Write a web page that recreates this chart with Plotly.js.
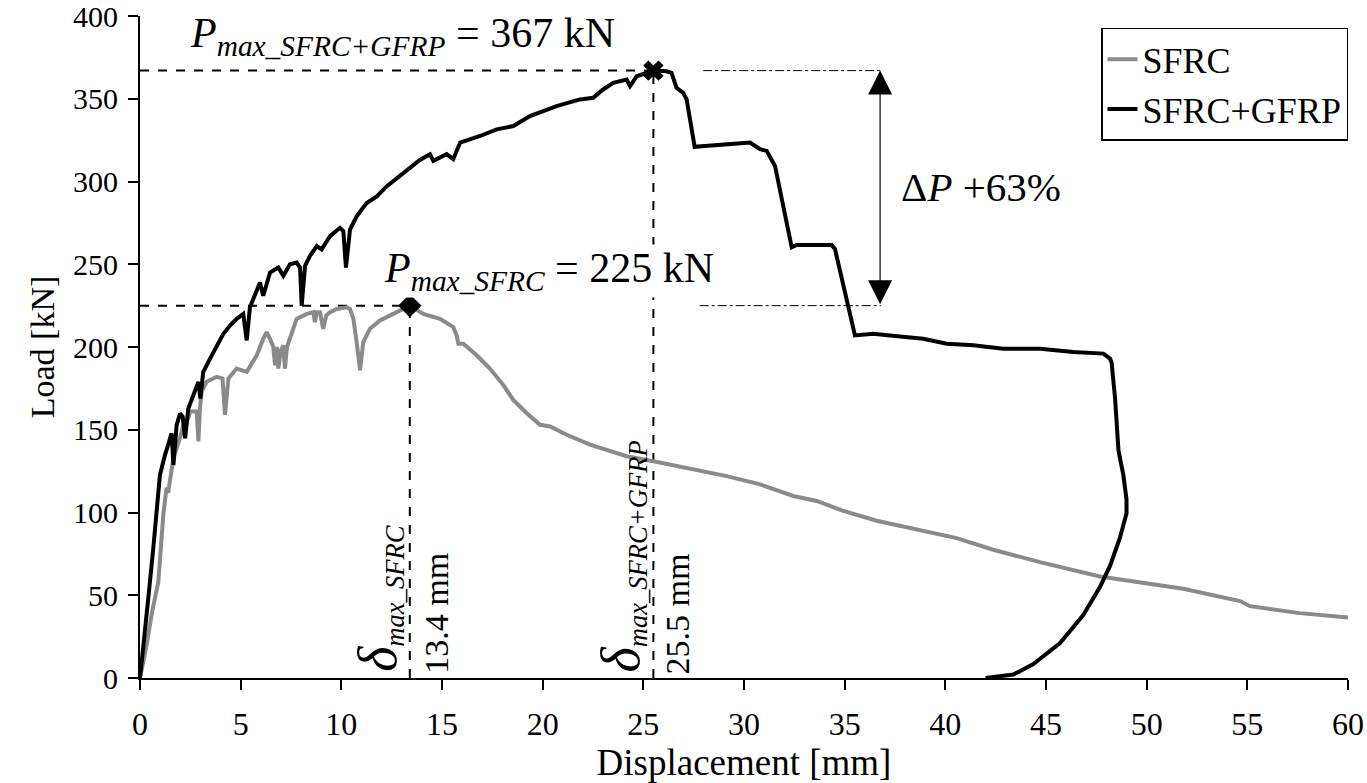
<!DOCTYPE html>
<html>
<head>
<meta charset="utf-8">
<script src="https://cdn.plot.ly/plotly-3.0.1.min.js"></script>
<style>html,body{margin:0;padding:0;background:#fff;}#chart{width:1367px;height:783px;}</style>
</head>
<body>
<div id="chart"></div>
<script>
// ---- data ----
var sfrcDisp = [0,0.3,0.6,0.91,1.16,1.32,1.40,1.57,1.66,1.99,2.15,2.40,2.48,2.82,2.90,2.98,3.06,3.31,3.81,4.10,4.22,4.39,4.80,5.30,5.80,6.12,6.29,6.46,6.62,6.71,6.80,6.87,7.0,7.12,7.20,7.30,7.78,8.28,8.61,8.69,8.78,8.94,9.10,9.25,9.44,9.77,10.26,10.43,10.6,10.76,10.93,11.09,11.42,11.92,12.42,12.91,13.4,14.07,14.9,15.56,15.73,15.81,16.06,16.72,17.38,18.05,18.54,19.21,19.87,20.37,21.19,22.35,24.17,25.5,27.49,29.14,30.8,32.45,33.61,34.93,36.59,38.25,40.56,42.38,44.7,47.68,51.82,54.64,55.13,57.6,60];
var sfrcLoad = [0,18,40,58,99,115,112,127,133,145,153,157,161,161,143,163,173,179,182,181,159,181,187,185,195,205,209,205,200,189,200,187,198,201,187,200,217,220,221,215,221,221,211,219,221,223,224,223,217,203,186,203,211,216,219,222,225,220,217,212,207,202,202,195,187,177,168,160,153,152,147,141,134,131,126,122,117,110,107,101,95,90.5,84.5,77.5,70,61.3,53.9,46.5,43.4,39.2,36.5];

var gfrpDisp = [0,0.17,0.41,0.66,0.83,0.99,1.24,1.49,1.57,1.66,1.82,1.99,2.12,2.24,2.40,2.65,2.90,3.0,3.14,3.48,3.81,4.14,4.47,4.80,5.13,5.30,5.46,5.96,6.12,6.46,6.87,7.12,7.45,7.78,7.95,8.03,8.2,8.44,8.78,9.02,9.44,9.93,10.1,10.23,10.43,10.76,11.26,11.76,12.25,13.08,13.9,14.4,14.57,15.23,15.56,15.9,16.89,17.72,18.54,19.37,20.69,21.85,22.51,23.0,23.51,24.17,24.34,24.67,25.17,25.5,26.15,26.4,26.65,26.98,27.15,27.55,30.3,30.8,31.13,31.54,32.37,32.61,34.35,34.52,35.51,36.42,37.25,38.9,40.07,41.39,42.88,44.7,46.36,47.85,48.18,48.26,48.43,48.6,48.84,49.0,49.0,48.67,48.18,47.68,46.85,45.7,44.37,43.38,42.0];
var gfrpLoad = [0,18,48,78.5,102.6,122.7,134.7,144.8,147.8,128.7,152.8,159.8,158,144.8,162.8,170.9,178.9,168.9,184.9,193,201,208,213,217,220,204,224,239,231,245,248,243,250,251,248,225,249,255,261,259,267,272,270,248,271,279,287,291,297,305,313,316.5,312.5,316.5,313.5,323.5,327.5,331.5,333.5,339.5,345.6,349.6,350.6,355.6,359.6,361.6,357.6,363.6,365.6,367,366.6,365.6,356.6,353.6,349.6,321,323.5,319.5,318.5,309.4,260.2,261.6,261.6,259.2,207,208,207,205,202,201,199,199,197,196,193,190.5,169,137.5,122.7,107.9,99.5,84.6,67.7,55,38,21.1,8.4,2.1,0];

var seriesNames = ['SFRC', 'SFRC+GFRP'];
var peakDisp = [13.4, 25.5];
var peakLoad = [225, 367];
var xTickVals = [0,5,10,15,20,25,30,35,40,45,50,55,60];
var yTickVals = [0,50,100,150,200,250,300,350,400];

var increase = Math.round((peakLoad[1] / peakLoad[0] - 1) * 100);

var FONT = 'Liberation Serif, Times New Roman, serif';
var GRAY = '#8a8a8a';

var traces = [
  {x: sfrcDisp, y: sfrcLoad, name: seriesNames[0], type: 'scatter', mode: 'lines',
   line: {color: GRAY, width: 4}},
  {x: gfrpDisp, y: gfrpLoad, name: seriesNames[1], type: 'scatter', mode: 'lines',
   line: {color: '#000', width: 4}},
  {x: [peakDisp[0]], y: [peakLoad[0]], type: 'scatter', mode: 'markers', showlegend: false,
   marker: {symbol: 'diamond', size: 18, color: '#000'}},
  {x: [peakDisp[1]], y: [peakLoad[1]], type: 'scatter', mode: 'markers', showlegend: false,
   marker: {symbol: 'x', size: 18, color: '#000'}}
];

var dashLine = {color: '#000', width: 2, dash: 'dash'};
var dotLine = {color: '#000', width: 1, dash: 'dashdot'};
var shapes = [
  {type: 'line', xref: 'x', yref: 'y', x0: 0, x1: peakDisp[1], y0: peakLoad[1], y1: peakLoad[1], line: dashLine, layer: 'below'},
  {type: 'line', xref: 'x', yref: 'y', x0: 0, x1: peakDisp[0], y0: peakLoad[0], y1: peakLoad[0], line: dashLine, layer: 'below'},
  {type: 'line', xref: 'x', yref: 'y', x0: peakDisp[0], x1: peakDisp[0], y0: 0, y1: peakLoad[0], line: dashLine, layer: 'below'},
  {type: 'line', xref: 'x', yref: 'y', x0: peakDisp[1], x1: peakDisp[1], y0: 0, y1: peakLoad[1], line: dashLine, layer: 'below'},
  {type: 'line', xref: 'x', yref: 'y', x0: 27.97, x1: 36.8, y0: peakLoad[1], y1: peakLoad[1], line: dotLine},
  {type: 'line', xref: 'x', yref: 'y', x0: 27.8, x1: 36.8, y0: peakLoad[0], y1: peakLoad[0], line: dotLine}
];

var annFont = function (s) { return {family: FONT, size: s, color: '#000'}; };
var bigDelta = '<span style="font-size:54px"><i>\u03B4</i></span>';
var annotations = [
  {xref: 'x', yref: 'paper', x: 2.38, y: 1, xanchor: 'left', yanchor: 'top', showarrow: false, yshift: 8,
   text: '<i>P</i><sub><i>max_SFRC+GFRP</i></sub> = ' + peakLoad[1] + ' kN', font: annFont(42)},
  {xref: 'x', yref: 'y', x: 12.07, y: 246, xanchor: 'left', yanchor: 'middle', showarrow: false,
   bgcolor: '#fff', borderpad: 0,
   text: '<i>P</i><sub><i>max_SFRC</i></sub> = ' + peakLoad[0] + ' kN', font: annFont(42)},
  {xref: 'x', yref: 'y', x: 41.77, y: 296.4, xanchor: 'center', yanchor: 'middle', showarrow: false,
   text: '\u0394<i>P</i> +' + increase + '%', font: annFont(41)},
  // double arrow
  {xref: 'x', yref: 'y', axref: 'x', ayref: 'y', x: 36.76, y: peakLoad[1], ax: 36.76, ay: peakLoad[0],
   text: '', showarrow: true, arrowside: 'end+start', arrowhead: 2, startarrowhead: 2,
   arrowsize: 4, startarrowsize: 4, arrowwidth: 1.2, arrowcolor: '#000', standoff: 0, startstandoff: 0},
  // rotated labels
  {xref: 'x', yref: 'y', x: peakDisp[0], y: 0, xanchor: 'right', yanchor: 'bottom', textangle: -90,
   showarrow: false, xshift: 2, yshift: 4,
   text: bigDelta + '<sub><i>max_SFRC</i></sub>', font: annFont(38)},
  {xref: 'x', yref: 'y', x: peakDisp[0], y: 0, xanchor: 'left', yanchor: 'bottom', textangle: -90,
   showarrow: false, xshift: 6, yshift: 2,
   text: peakDisp[0].toFixed(1) + ' mm', font: annFont(34)},
  {xref: 'x', yref: 'y', x: peakDisp[1], y: 0, xanchor: 'right', yanchor: 'bottom', textangle: -90,
   showarrow: false, xshift: 2, yshift: 4,
   text: bigDelta + '<sub><i>max_SFRC+GFRP</i></sub>', font: annFont(38)},
  {xref: 'x', yref: 'y', x: peakDisp[1], y: 0, xanchor: 'left', yanchor: 'bottom', textangle: -90,
   showarrow: false, xshift: 4, yshift: 2,
   text: peakDisp[1].toFixed(1) + ' mm', font: annFont(34)}
];

var layout = {
  width: 1367, height: 783,
  margin: {l: 140, r: 19, t: 16, b: 105, pad: 0},
  paper_bgcolor: '#fff', plot_bgcolor: '#fff',
  font: {family: FONT, size: 30, color: '#000'},
  showlegend: true,
  legend: {x: 1, xanchor: 'right', y: 0.982, yanchor: 'top', bgcolor: '#fff',
           bordercolor: '#000', borderwidth: 1.5, font: {family: FONT, size: 36, color: '#000'},
           tracegroupgap: 0},
  xaxis: {range: [0, 60], tickvals: xTickVals, ticks: 'outside', ticklen: 10, tickwidth: 2,
          tickcolor: '#000', showline: true, linecolor: '#000', linewidth: 2, showgrid: false,
          zeroline: false, ticklabelstandoff: 7, ticklabeloverflow: 'allow',
          tickfont: {family: FONT, size: 32, color: '#000'},
          title: {text: 'Displacement [mm]', font: {family: FONT, size: 37, color: '#000'}, standoff: 8}},
  yaxis: {range: [0, 400], tickvals: yTickVals, ticks: 'outside', ticklen: 10, tickwidth: 2,
          tickcolor: '#000', showline: true, linecolor: '#000', linewidth: 2, showgrid: false,
          zeroline: false, ticklabelstandoff: 4, ticklabeloverflow: 'allow',
          tickfont: {family: FONT, size: 30, color: '#000'},
          title: {text: 'Load [kN]', font: {family: FONT, size: 34, color: '#000'}, standoff: 8}},
  shapes: shapes,
  annotations: annotations
};

Plotly.newPlot('chart', traces, layout, {displayModeBar: false, staticPlot: true});
</script>
</body>
</html>
